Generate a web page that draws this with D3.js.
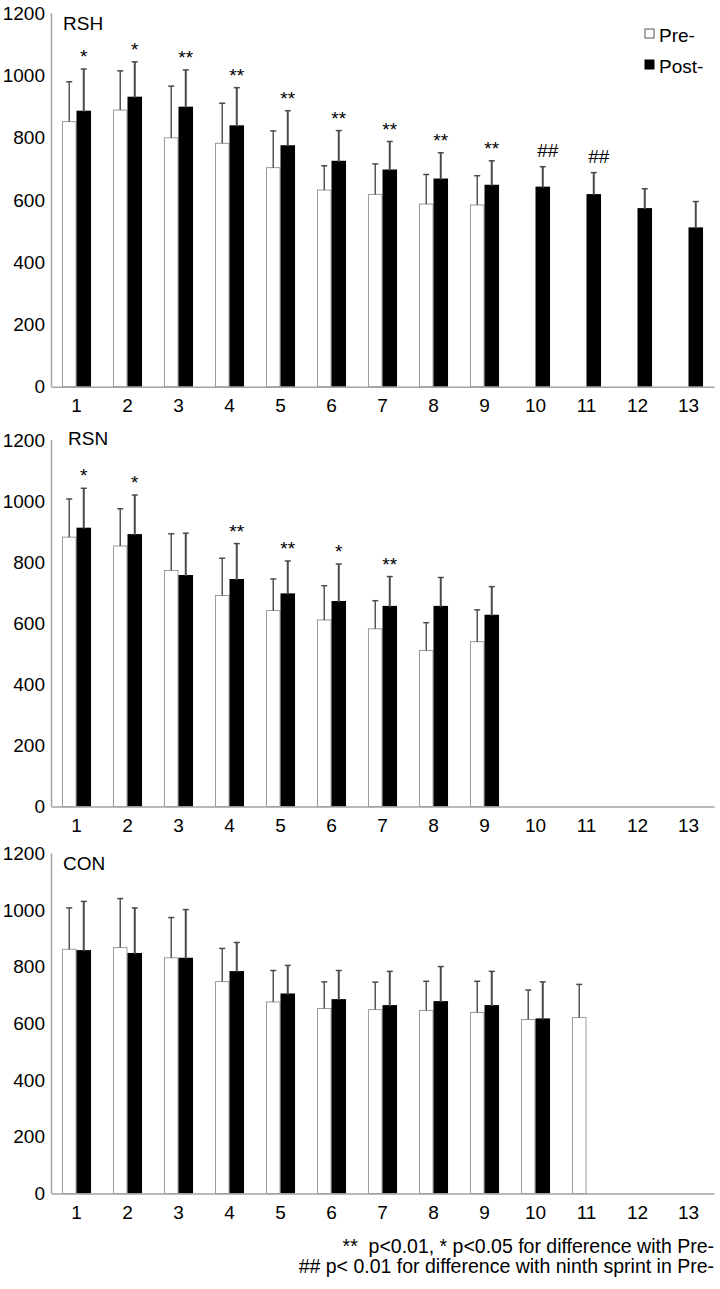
<!DOCTYPE html>
<html>
<head>
<meta charset="utf-8">
<script src="https://cdn.jsdelivr.net/npm/d3@7"></script>
<style>
  body { margin: 0; background: #fff; }
  text { font-family: "Liberation Sans", Arial, sans-serif; }
</style>
</head>
<body>
<div id="chart"></div>
<script>
// sprint numbers on the x axis
const sprints = ["1", "2", "3", "4", "5", "6", "7", "8", "9", "10", "11", "12", "13"]
const yTicks = [0, 200, 400, 600, 800, 1000, 1200]

// RSH group (mean, sd); null = no bar
const rshPre = [852, 889, 800, 782, 704, 632, 618, 587, 584, null, null, null, null]
const rshPreSd = [128, 126, 166, 129, 118, 78, 98, 95, 94, null, null, null, null]
const rshPost = [887, 932, 900, 840, 776, 726, 698, 669, 649, 643, 619, 574, 512]
const rshPostSd = [134, 112, 118, 121, 111, 97, 90, 83, 77, 64, 69, 62, 83]
const rshMarks = ["*", "*", "**", "**", "**", "**", "**", "**", "**", "##", "##", "", ""]

// RSN group
const rsnPre = [882, 853, 773, 691, 642, 611, 582, 511, 540, null, null, null, null]
const rsnPreSd = [125, 122, 120, 122, 103, 112, 92, 91, 104, null, null, null, null]
const rsnPost = [913, 892, 758, 745, 698, 673, 657, 657, 628, null, null, null, null]
const rsnPostSd = [129, 128, 137, 116, 106, 121, 96, 93, 92, null, null, null, null]
const rsnMarks = ["*", "*", "", "**", "**", "*", "**", "", "", "", "", "", ""]

// CON group
const conPre = [862, 868, 832, 748, 676, 653, 649, 646, 639, 614, 621, null, null]
const conPreSd = [146, 173, 142, 117, 111, 94, 97, 103, 110, 104, 117, null, null]
const conPost = [859, 849, 832, 785, 706, 686, 665, 679, 665, 618, null, null, null]
const conPostSd = [172, 159, 170, 101, 99, 101, 119, 122, 119, 129, null, null, null]
const conMarks = ["", "", "", "", "", "", "", "", "", "", "", "", ""]

const legendLabels = ["Pre-", "Post-"]
const footnotes = [
  "**  p<0.01, * p<0.05 for difference with Pre-",
  "## p< 0.01 for difference with ninth sprint in Pre-"
]

const width = 720,
  height = 1289;

const axisColor = "#a3a3a3"
const errColor = "#4a4a4a"
const fontSize = 19

let svg = d3.select("#chart").append("svg")
  .attr("width", width)
  .attr("height", height)

const x = d3.scaleBand()
  .domain(sprints)
  .range([51, 714])
  .paddingInner(0.43)
  .paddingOuter(0.215)

const xs = d3.scaleBand()
  .domain(["pre", "post"])
  .range([0, x.bandwidth()])

// each panel: pixel bottom (0) and top (1200) of its y axis
const panels = [
  { name: "RSH", y0: 386.7, y1: 13.3, lx: 63, ly: 30, pre: rshPre, preSd: rshPreSd, post: rshPost, postSd: rshPostSd, marks: rshMarks },
  { name: "RSN", y0: 806.6, y1: 440, lx: 68, ly: 445, pre: rsnPre, preSd: rsnPreSd, post: rsnPost, postSd: rsnPostSd, marks: rsnMarks },
  { name: "CON", y0: 1193.5, y1: 853.5, lx: 63, ly: 870, pre: conPre, preSd: conPreSd, post: conPost, postSd: conPostSd, marks: conMarks }
]

function drawPanel(p) {
  let g = svg.append("g")
  const y = d3.scaleLinear().domain([0, 1200]).range([p.y0, p.y1])

  // y axis
  g.append("line")
    .attr("x1", 51.5).attr("x2", 51.5)
    .attr("y1", y(0)).attr("y2", y(1200))
    .attr("stroke", axisColor).attr("stroke-width", 1.5)

  let ya = g.append("g")
    .attr("transform", "translate(52,0)")
    .call(d3.axisLeft(y).tickValues(yTicks).tickFormat(d3.format("d")).tickSize(0).tickPadding(7))
  ya.select(".domain").remove()
  ya.selectAll("text").attr("font-size", fontSize).attr("fill", "#000")
    .style("font-family", "'Liberation Sans', Arial, sans-serif")

  // bars
  sprints.forEach(function (s, i) {
    let bx = x(s)
    if (p.pre[i] != null) {
      g.append("rect")
        .attr("x", bx + xs("pre") + 0.5).attr("y", y(p.pre[i]))
        .attr("width", xs.bandwidth() - 1).attr("height", y(0) - y(p.pre[i]))
        .attr("fill", "#fff").attr("stroke", "#9a9a9a").attr("stroke-width", 1)
      let cx = bx + xs("pre") + xs.bandwidth() / 2
      errorBar(g, cx, y(p.pre[i]), y(p.pre[i] + p.preSd[i]), 1.4)
    }
    if (p.post[i] != null) {
      g.append("rect")
        .attr("x", bx + xs("post")).attr("y", y(p.post[i]))
        .attr("width", xs.bandwidth()).attr("height", y(0) - y(p.post[i]))
        .attr("fill", "#000")
      let cx = bx + xs("post") + xs.bandwidth() / 2
      let top = y(p.post[i] + p.postSd[i])
      errorBar(g, cx, y(p.post[i]) + 1, top, 2)
      if (p.marks[i]) {
        let isHash = p.marks[i] == "##"
        g.append("text")
          .attr("x", isHash ? cx + 5 : cx)
          .attr("y", isHash ? top - 10 : top - 6)
          .attr("text-anchor", "middle")
          .attr("font-size", fontSize)
          .text(p.marks[i])
      }
    }
  })

  // x axis
  let xa = g.append("g")
    .attr("transform", "translate(0," + y(0) + ")")
    .call(d3.axisBottom(x).tickSize(0).tickPadding(12))
  xa.select(".domain").attr("stroke", axisColor).attr("stroke-width", 1.5)
  xa.selectAll("text").attr("font-size", fontSize).attr("fill", "#000")
    .style("font-family", "'Liberation Sans', Arial, sans-serif")

  // group label
  g.append("text")
    .attr("x", p.lx).attr("y", p.ly)
    .attr("font-size", fontSize)
    .text(p.name)
}

function errorBar(g, cx, yFrom, yTo, w) {
  g.append("line")
    .attr("x1", cx).attr("x2", cx).attr("y1", yFrom).attr("y2", yTo)
    .attr("stroke", errColor).attr("stroke-width", w)
  g.append("line")
    .attr("x1", cx - 3).attr("x2", cx + 3).attr("y1", yTo).attr("y2", yTo)
    .attr("stroke", errColor).attr("stroke-width", 1.5)
}

panels.forEach(drawPanel)

// legend
let leg = svg.append("g")
legendLabels.forEach(function (l, i) {
  let ly = 35 + i * 31
  leg.append("rect")
    .attr("x", 645).attr("y", ly - 6).attr("width", 9).attr("height", 9)
    .attr("fill", i == 0 ? "#fff" : "#000")
    .attr("stroke", i == 0 ? "#555" : "#000").attr("stroke-width", 1)
  leg.append("text")
    .attr("x", 659).attr("y", ly + 7)
    .attr("font-size", fontSize)
    .text(l)
})

// footnote
footnotes.forEach(function (f, i) {
  svg.append("text")
    .attr("x", 714).attr("y", 1253 + i * 20)
    .attr("text-anchor", "end")
    .attr("font-size", 19.5)
    .style("white-space", "pre")
    .text(f)
})
</script>
</body>
</html>
